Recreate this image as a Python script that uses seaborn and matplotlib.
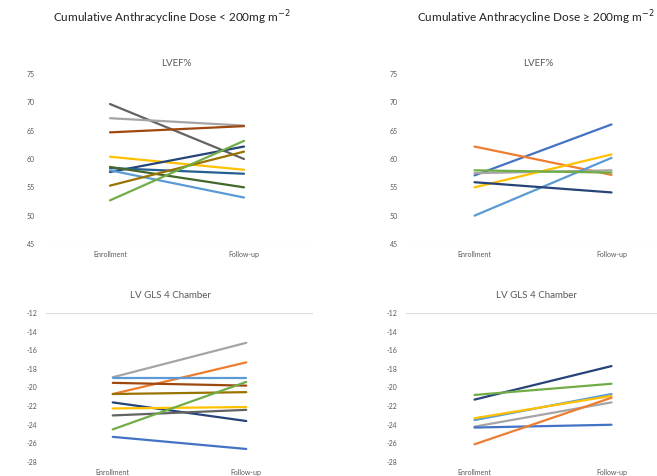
import matplotlib
matplotlib.use("Agg")
import matplotlib.pyplot as plt
import seaborn as sns
import pandas as pd

sns.set_theme(style="white")
plt.rcParams['font.family'] = ['Lato', 'DejaVu Sans']

timepoints = ["Enrollment", "Follow-up"]

# Top-left: LVEF%, dose < 200
tl_enroll = [69.7, 67.2, 64.7, 60.4, 57.7, 58.4, 58.6, 58.0, 55.3, 52.7]
tl_follow = [60.0, 65.9, 65.8, 58.1, 62.2, 57.4, 55.0, 53.2, 61.3, 63.2]
tl_colors = ["#636363", "#A5A5A5", "#9E480E", "#FFC000", "#264478", "#255E91",
             "#43682B", "#5B9BD5", "#997300", "#70AD47"]

# Top-right: LVEF%, dose >= 200
tr_enroll = [57.1, 62.2, 57.5, 55.0, 50.0, 58.0, 55.9]
tr_follow = [66.1, 57.2, 58.0, 60.8, 60.2, 57.6, 54.1]
tr_colors = ["#4472C4", "#ED7D31", "#A5A5A5", "#FFC000", "#5B9BD5", "#70AD47", "#264478"]

# Bottom-left: LV GLS 4 Chamber, dose < 200
bl_enroll = [-18.9, -20.7, -19.0, -19.5, -20.7, -21.6, -22.25, -23.0, -24.5, -25.3]
bl_follow = [-15.2, -17.3, -19.0, -19.8, -20.5, -23.6, -22.1, -22.4, -19.4, -26.6]
bl_colors = ["#A5A5A5", "#ED7D31", "#5B9BD5", "#9E480E", "#997300", "#264478",
             "#FFC000", "#636363", "#70AD47", "#4472C4"]

# Bottom-right: LV GLS 4 Chamber, dose >= 200
br_enroll = [-21.3, -20.8, -23.5, -23.3, -24.2, -24.3, -26.1]
br_follow = [-17.7, -19.6, -20.7, -20.9, -21.6, -24.0, -21.1]
br_colors = ["#264478", "#70AD47", "#5B9BD5", "#FFC000", "#A5A5A5", "#4472C4", "#ED7D31"]

lvef_ticks = [45, 50, 55, 60, 65, 70, 75]
gls_ticks = [-28, -26, -24, -22, -20, -18, -16, -14, -12]

W, H = 657, 476
fig = plt.figure(figsize=(W / 100, H / 100), dpi=100)

def px_axes(x0, x1, ytop, ybot):
    return fig.add_axes([x0 / W, 1 - ybot / H, (x1 - x0) / W, (ybot - ytop) / H])

def draw(ax, enroll, follow, colors, ticks, axis_at_top):
    rows = []
    for i, (a, b) in enumerate(zip(enroll, follow)):
        rows.append({"pid": i, "time": timepoints[0], "value": a})
        rows.append({"pid": i, "time": timepoints[1], "value": b})
    df = pd.DataFrame(rows)
    sns.lineplot(data=df, x="time", y="value", hue="pid", palette=colors,
                 estimator=None, sort=False, legend=False, linewidth=1.6, ax=ax)
    ax.set_xlim(-0.5, 1.5)
    ax.set_ylim(ticks[0], ticks[-1])
    ax.set_yticks(ticks)
    ax.set_yticklabels([str(t) for t in ticks])
    ax.set_xlabel("")
    ax.set_ylabel("")
    for s in ax.spines.values():
        s.set_visible(False)
    ax.axhline(ticks[-1] if axis_at_top else ticks[0], color="#D9D9D9", lw=0.8, zorder=0)
    ax.tick_params(axis="both", length=0, labelsize=5, labelcolor="#595959")
    ax.tick_params(axis="y", pad=6)
    ax.tick_params(axis="x", pad=5)
    ax.patch.set_alpha(0)

ax1 = px_axes(43, 311, 74, 244)
draw(ax1, tl_enroll, tl_follow, tl_colors, lvef_ticks, False)
ax2 = px_axes(406, 680, 74, 244)
draw(ax2, tr_enroll, tr_follow, tr_colors, lvef_ticks, False)
ax3 = px_axes(46, 313, 313, 462)
draw(ax3, bl_enroll, bl_follow, bl_colors, gls_ticks, True)
ax4 = px_axes(406, 680, 313, 462)
draw(ax4, br_enroll, br_follow, br_colors, gls_ticks, True)

def ftext(x, y, s, size, color, ha="center"):
    fig.text(x / W, 1 - y / H, s, ha=ha, va="center", fontsize=size, color=color)

ftext(172, 18, "Cumulative Anthracycline Dose < 200mg m$^{-2}$", 8.5, "#222222")
ftext(655, 18, "Cumulative Anthracycline Dose \u2265 200mg m$^{-2}$", 8.5, "#222222", ha="right")
ftext(176, 64, "LVEF%", 7, "#595959")
ftext(538, 64, "LVEF%", 7, "#595959")
ftext(170, 296, "LV GLS 4 Chamber", 7, "#595959")
ftext(536, 296, "LV GLS 4 Chamber", 7, "#595959")

fig.savefig("out.png", dpi=100, facecolor="white")
